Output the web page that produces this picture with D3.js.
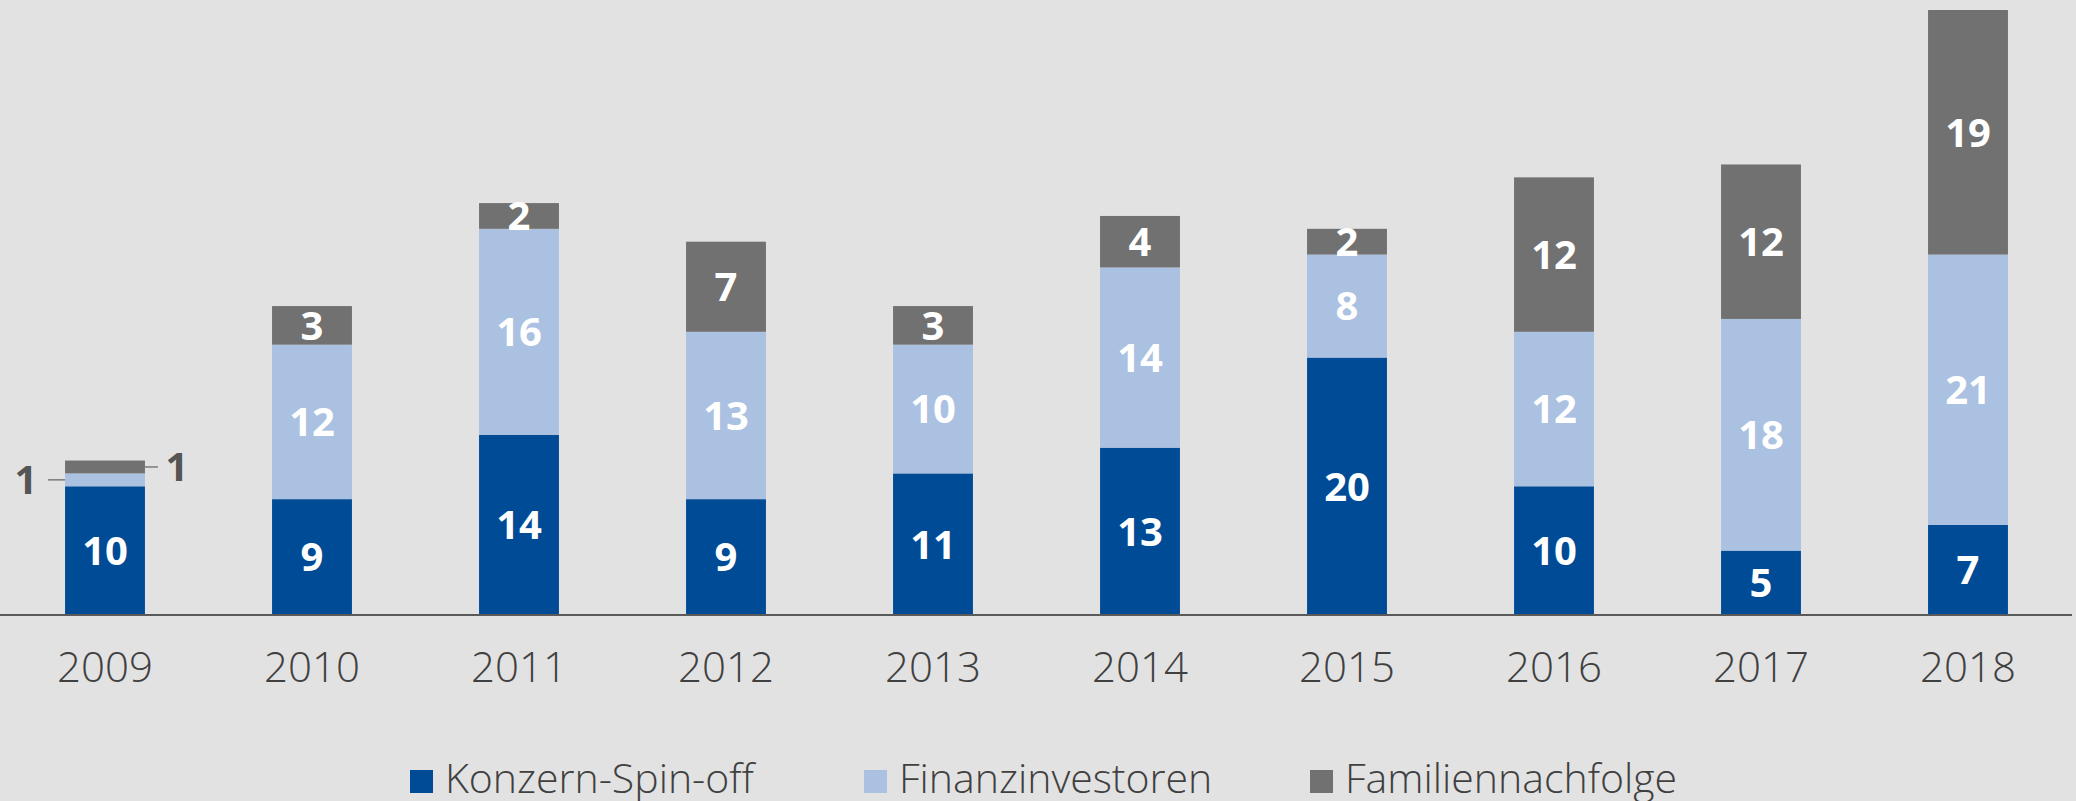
<!DOCTYPE html>
<html>
<head>
<meta charset="utf-8">
<script src="https://cdn.jsdelivr.net/npm/d3@7"></script>
<style>
  html, body { margin: 0; padding: 0; background: #e2e2e2; }
  svg { display: block; }
</style>
</head>
<body>
<svg id="chart" width="2076" height="801"></svg>
<script>
const years = ["2009","2010","2011","2012","2013","2014","2015","2016","2017","2018"];
const konzern = [10, 9, 14, 9, 11, 13, 20, 10, 5, 7];
const finanz  = [1, 12, 16, 13, 10, 14, 8, 12, 18, 21];
const familie = [1, 3, 2, 7, 3, 4, 2, 12, 12, 19];
const seriesNames = ["Konzern-Spin-off", "Finanzinvestoren", "Familiennachfolge"];
const seriesColors = ["#004b96", "#abc1e1", "#717171"];

const W = 2076, H = 801;
const svg = d3.select("#chart");
svg.append("rect").attr("width", W).attr("height", H).attr("fill", "#e2e2e2");

const rows = years.map((y, i) => ({ year: y, k: konzern[i], f: finanz[i], m: familie[i] }));
const keys = ["k", "f", "m"];
const stack = d3.stack().keys(keys)(rows);

const x = d3.scaleBand().domain(years).range([1.5, 2071.5]).paddingInner(0.614).paddingOuter(0.307);
const totalMax = d3.max(rows, d => d.k + d.f + d.m);
const y = d3.scaleLinear().domain([0, totalMax]).range([615, 10]);

const g = svg.append("g");
stack.forEach((layer, li) => {
  g.selectAll(null).data(layer).enter().append("rect")
    .attr("x", d => x(d.data.year))
    .attr("width", x.bandwidth())
    .attr("y", d => y(d[1]))
    .attr("height", d => y(d[0]) - y(d[1]))
    .attr("fill", seriesColors[li]);
});

// value labels (2009 small segments handled with leader lines)
stack.forEach((layer, li) => {
  g.selectAll(null).data(layer.filter(d => !(d.data.year === "2009" && li > 0))).enter().append("text")
    .attr("x", d => x(d.data.year) + x.bandwidth() / 2)
    .attr("y", d => (y(d[0]) + y(d[1])) / 2)
    .attr("dy", "0.36em")
    .attr("text-anchor", "middle")
    .attr("font-family", "'Open Sans', sans-serif")
    .attr("font-weight", 700)
    .attr("font-size", 40)
    .attr("fill", "#ffffff")
    .text(d => d[1] - d[0]);
});

// 2009 outside labels with leader lines
const s2009f = stack[1][0], s2009m = stack[2][0];
const bx = x("2009"), bw = x.bandwidth();
const yf = (y(s2009f[0]) + y(s2009f[1])) / 2;
const ym = (y(s2009m[0]) + y(s2009m[1])) / 2;
g.append("line").attr("x1", bx - 17).attr("x2", bx).attr("y1", yf).attr("y2", yf)
  .attr("stroke", "#7a7a7a").attr("stroke-width", 1.5);
g.append("text").attr("x", bx - 39).attr("y", yf).attr("dy", "0.36em").attr("text-anchor", "middle")
  .attr("font-family", "'Open Sans', sans-serif").attr("font-weight", 700).attr("font-size", 40)
  .attr("fill", "#555555").text(s2009f[1] - s2009f[0]);
g.append("line").attr("x1", bx + bw).attr("x2", bx + bw + 13).attr("y1", ym).attr("y2", ym)
  .attr("stroke", "#7a7a7a").attr("stroke-width", 1.5);
g.append("text").attr("x", bx + bw + 32).attr("y", ym).attr("dy", "0.36em").attr("text-anchor", "middle")
  .attr("font-family", "'Open Sans', sans-serif").attr("font-weight", 700).attr("font-size", 40)
  .attr("fill", "#555555").text(s2009m[1] - s2009m[0]);

// x axis
const xAxis = d3.axisBottom(x).tickSize(0).tickPadding(0);
const ax = svg.append("g").attr("transform", "translate(0,615)").call(xAxis);
ax.select(".domain").remove();
ax.selectAll("text")
  .attr("y", 67).attr("dy", 0)
  .attr("font-family", "'Open Sans', sans-serif")
  .attr("font-weight", 300)
  .attr("font-size", 42)
  .attr("fill", "#404040");
svg.append("line").attr("x1", 0).attr("x2", 2072).attr("y1", 615).attr("y2", 615)
  .attr("stroke", "#5a5a5a").attr("stroke-width", 2);

// legend
const legendX = [410, 864, 1310];
const items = svg.append("g").selectAll(null).data(seriesNames).enter().append("g")
  .attr("transform", (d, i) => `translate(${legendX[i]},0)`);
items.append("rect").attr("width", 23).attr("height", 23).attr("y", 770)
  .attr("fill", (d, i) => seriesColors[i]);
items.append("text").attr("x", 35).attr("y", 793)
  .attr("font-family", "'Open Sans', sans-serif").attr("font-weight", 300)
  .attr("font-size", 41).attr("fill", "#404040").text(d => d);
</script>
</body>
</html>
